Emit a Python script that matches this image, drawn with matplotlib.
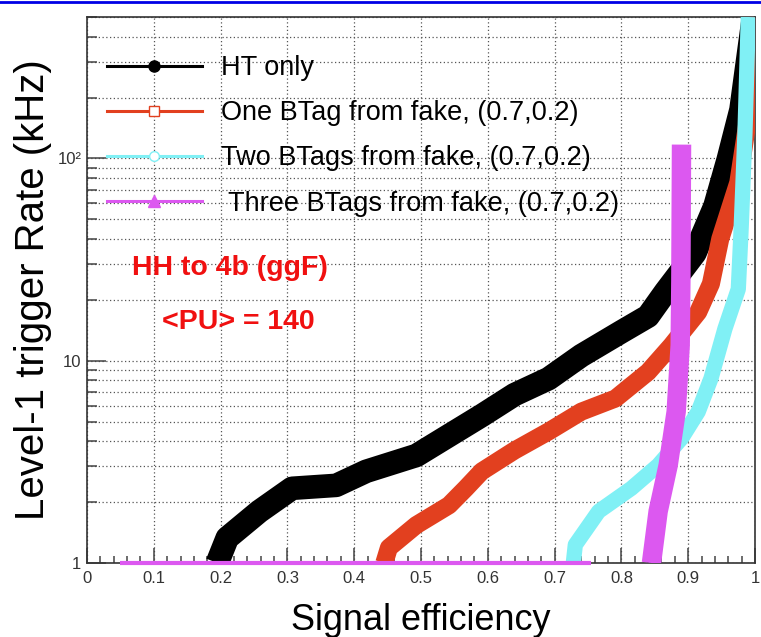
import matplotlib
matplotlib.use("Agg")
import matplotlib.pyplot as plt
from matplotlib.lines import Line2D
from matplotlib.ticker import MultipleLocator, LogLocator, NullFormatter

plt.rcParams['font.family'] = ['Liberation Sans', 'DejaVu Sans']

# Rate (kHz) vs signal efficiency for the HH->4b trigger scenarios
ht_eff = [0.195, 0.21, 0.258, 0.307, 0.373, 0.418, 0.493, 0.542, 0.591, 0.64,
          0.691, 0.74, 0.80, 0.84, 0.866, 0.91, 0.94, 0.96, 0.979, 0.997]
ht_rate = [1.0, 1.33, 1.80, 2.34, 2.42, 2.84, 3.40, 4.27, 5.36, 6.8,
           8.15, 10.6, 13.9, 16.6, 21.9, 34, 58, 99, 174, 480]

one_eff = [0.445, 0.452, 0.493, 0.542, 0.567, 0.591, 0.64, 0.691, 0.74, 0.791,
           0.84, 0.875, 0.915, 0.934, 0.948, 0.975, 0.994, 0.999]
one_rate = [1.0, 1.19, 1.54, 1.93, 2.34, 2.84, 3.6, 4.47, 5.6, 6.5,
            8.8, 11.9, 17.4, 24, 40, 76, 195, 500]

two_eff = [0.728, 0.731, 0.766, 0.815, 0.855, 0.890, 0.915, 0.934, 0.955, 0.975,
           0.979, 0.985, 0.990]
two_rate = [1.0, 1.23, 1.80, 2.34, 3.04, 4.13, 5.6, 8.15, 14.4, 22.6,
            43, 134, 500]

three_eff = [0.845, 0.855, 0.870, 0.882, 0.888, 0.889, 0.890]
three_rate = [1.0, 1.8, 3.04, 5.6, 11.9, 25, 117]
# points sitting on the lower edge of the plot
three_low_eff = [0.05, 0.755]
three_low_rate = [1.0, 1.0]

labels = ["HT only",
          "One BTag from fake, (0.7,0.2)",
          "Two BTags from fake, (0.7,0.2)",
          " Three BTags from fake, (0.7,0.2)"]

c_black = '#000000'
c_red = '#e2401f'
c_cyan = '#80f0f5'
c_mag = '#dc58f0'

fig = plt.figure(figsize=(7.61, 6.37), dpi=100)
ax = fig.add_axes([87 / 761, 1 - 563 / 637, 668 / 761, 546 / 637])

ax.plot(ht_eff, ht_rate, color=c_black, lw=17, solid_capstyle='butt', zorder=3)
ax.plot(one_eff, one_rate, color=c_red, lw=13, solid_capstyle='butt', zorder=4)
ax.plot(two_eff, two_rate, color=c_cyan, lw=11, solid_capstyle='butt', zorder=5)
ax.plot(three_eff, three_rate, color=c_mag, lw=14, solid_capstyle='butt', zorder=6)
ax.plot(three_low_eff, three_low_rate, color=c_mag, lw=3, solid_capstyle='butt',
        zorder=7, clip_on=False)

ax.set_xlim(0, 1)
ax.set_yscale('log')
ax.set_ylim(1, 500)

xt = [0, 0.1, 0.2, 0.3, 0.4, 0.5, 0.6, 0.7, 0.8, 0.9, 1]
ax.set_xticks(xt)
ax.set_xticklabels(['0' if v == 0 else ('1' if v == 1 else f'{v:.1f}') for v in xt])
ax.xaxis.set_minor_locator(MultipleLocator(0.02))
ax.set_yticks([1, 10, 100])
ax.set_yticklabels(['1', '10', '10²'])
ax.yaxis.set_minor_locator(LogLocator(base=10, subs=range(2, 10)))
ax.yaxis.set_minor_formatter(NullFormatter())

ax.tick_params(axis='both', which='both', direction='in', color='#444444', width=1.1,
               labelsize=12, labelcolor='#333333', top=False, right=False)
ax.tick_params(axis='x', which='major', length=11, pad=6)
ax.tick_params(axis='x', which='minor', length=5)
ax.tick_params(axis='y', which='major', length=14, pad=4)
ax.tick_params(axis='y', which='minor', length=7)

ax.grid(True, which='major', axis='x', color='#555555', lw=0.9, ls=(0, (1, 2)))
ax.grid(True, which='both', axis='y', color='#555555', lw=0.9, ls=(0, (1, 2)))
ax.set_axisbelow(True)
for sp in ax.spines.values():
    sp.set_color('#333333')
    sp.set_linewidth(1.2)

ax.set_xlabel('Signal efficiency', fontsize=26, labelpad=12)
ax.set_ylabel('Level-1 trigger Rate (kHz)', fontsize=29, labelpad=4)

handles = [
    Line2D([], [], color=c_black, lw=2.2, marker='o', ms=8, mfc=c_black, mec=c_black),
    Line2D([], [], color=c_red, lw=2.2, marker='s', ms=7, mfc='white', mec=c_red),
    Line2D([], [], color=c_cyan, lw=2.2, marker='o', ms=7, mfc='white', mec=c_cyan),
    Line2D([], [], color=c_mag, lw=2.2, marker='^', ms=8, mfc=c_mag, mec=c_mag),
]
leg = ax.legend(handles, labels, loc='upper left',
                bbox_to_anchor=(107 / 761, 1 - 55 / 637), bbox_transform=fig.transFigure,
                frameon=False, fontsize=19.5, handlelength=3.5, handletextpad=0.7,
                labelspacing=0.71, borderpad=0, borderaxespad=0)
leg.set_zorder(10)

ax.text(0.067, 0.540, 'HH to 4b (ggF)', transform=ax.transAxes, color='#f01010',
        fontsize=20.5, fontweight='bold', va='center', ha='left', zorder=10)
ax.text(0.1116, 0.441, '<PU> = 140', transform=ax.transAxes, color='#f01010',
        fontsize=20.5, fontweight='bold', va='center', ha='left', zorder=10)

# blue frame line along the top edge
fig.add_artist(Line2D([0, 1], [1 - 2 / 637, 1 - 2 / 637], transform=fig.transFigure,
                      color='#0000e6', lw=2))

fig.savefig('out.png', dpi=100)
